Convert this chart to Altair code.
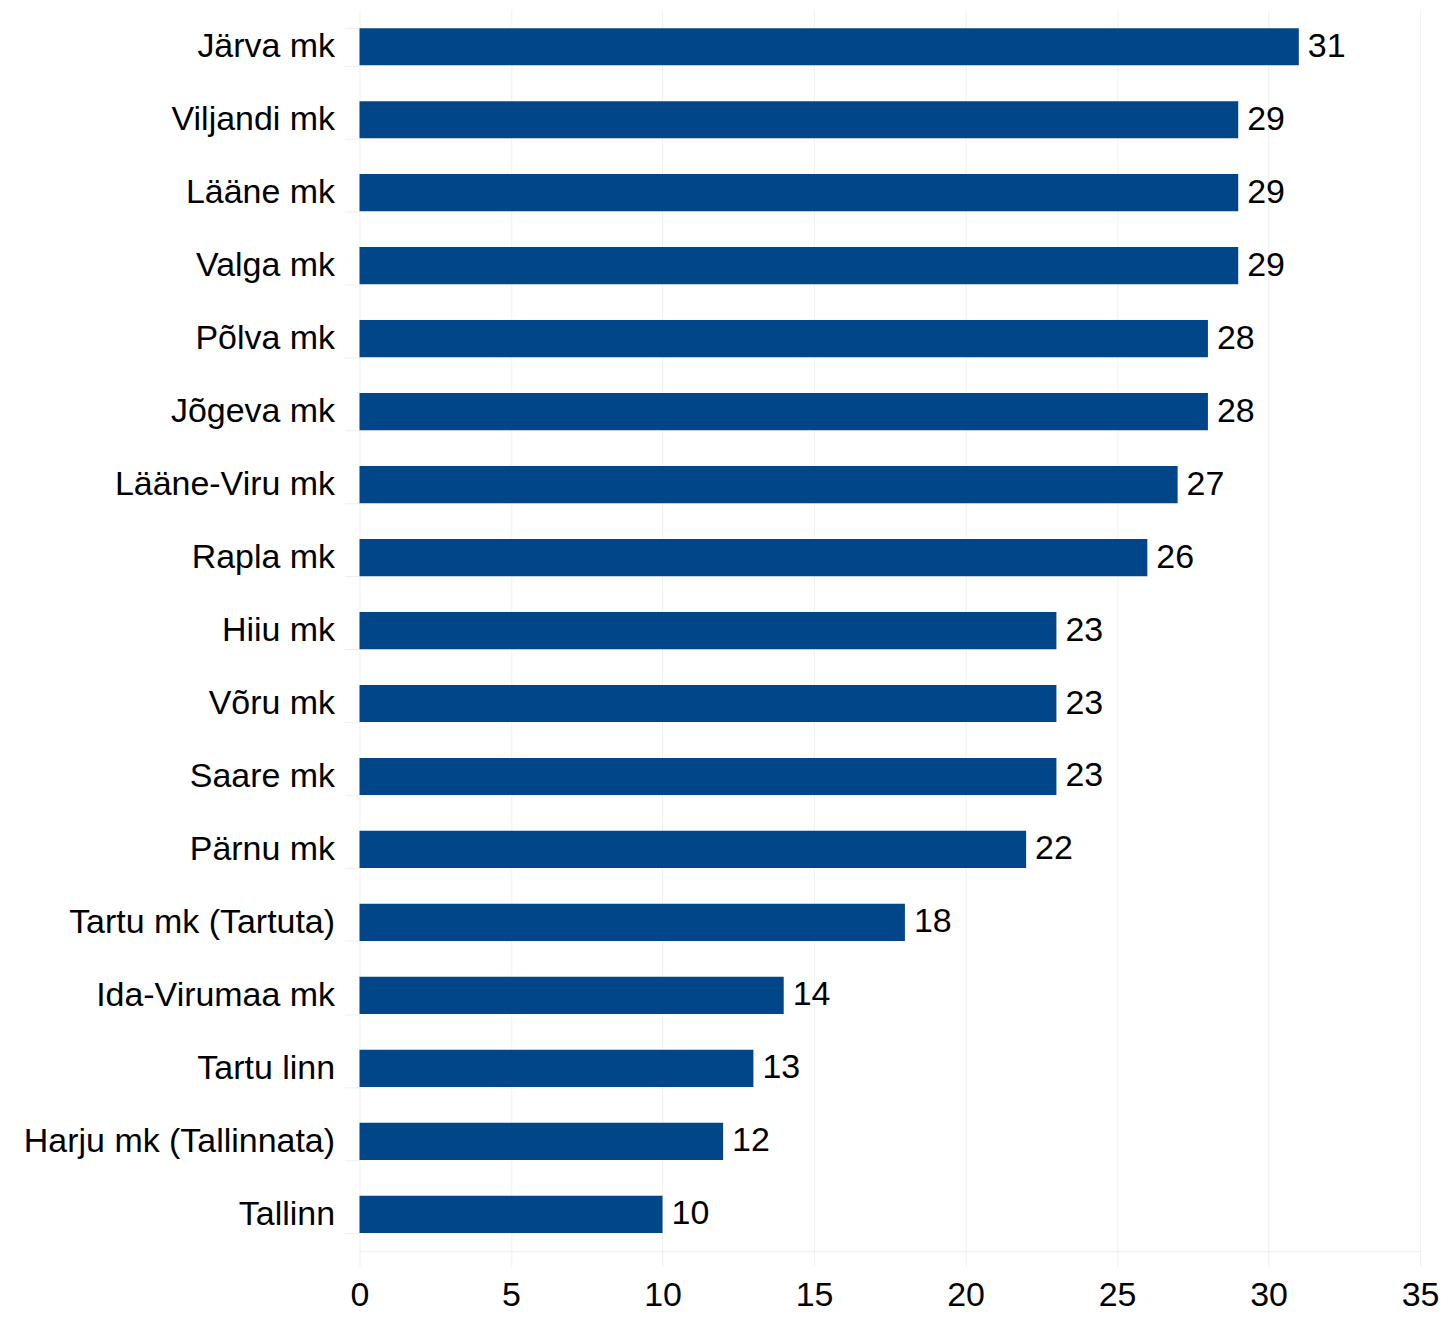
import altair as alt
import pandas as pd

regions = ["Järva mk", "Viljandi mk", "Lääne mk", "Valga mk", "Põlva mk", "Jõgeva mk",
           "Lääne-Viru mk", "Rapla mk", "Hiiu mk", "Võru mk", "Saare mk", "Pärnu mk",
           "Tartu mk (Tartuta)", "Ida-Virumaa mk", "Tartu linn", "Harju mk (Tallinnata)", "Tallinn"]
values = [31, 29, 29, 29, 28, 28, 27, 26, 23, 23, 23, 22, 18, 14, 13, 12, 10]
x_ticks = [0, 5, 10, 15, 20, 25, 30, 35]

df = pd.DataFrame({"region": regions, "value": values})

FONT = "Liberation Sans"
BLUE = "#02468a"
FS = 34

y = alt.Y("region:N", sort=regions, title=None,
          scale=alt.Scale(paddingInner=0.49, paddingOuter=0.25),
          axis=alt.Axis(domain=False, tickBand="extent", tickColor="#eeeeee", tickSize=15,
                        labelPadding=10, labelFont=FONT, labelFontSize=FS, labelColor="#000000",
                        labelLimit=400))
x = alt.X("value:Q", title=None,
          scale=alt.Scale(domain=[0, 35], nice=False),
          axis=alt.Axis(values=x_ticks, grid=True, gridColor="#f0f0f0",
                        domainColor="#eeeeee", tickColor="#eeeeee", tickSize=15,
                        labelPadding=12, labelFont=FONT, labelFontSize=FS, labelColor="#000000",
                        labelFlush=False))

bars = alt.Chart(df).mark_bar(color=BLUE).encode(x=x, y=y)
labels = alt.Chart(df).mark_text(align="left", baseline="middle", dx=9, font=FONT,
                                 fontSize=FS, color="#000000").encode(
    x="value:Q", y=alt.Y("region:N", sort=regions), text="value:Q")

chart = (bars + labels).properties(
    width=1062, height=1243,
    autosize=alt.AutoSizeParams(type="none"),
    padding={"left": 352, "top": 1, "right": 20, "bottom": 64},
).configure_view(stroke=None)

chart.save("out.html", embed_options={"renderer": "svg", "actions": False})
